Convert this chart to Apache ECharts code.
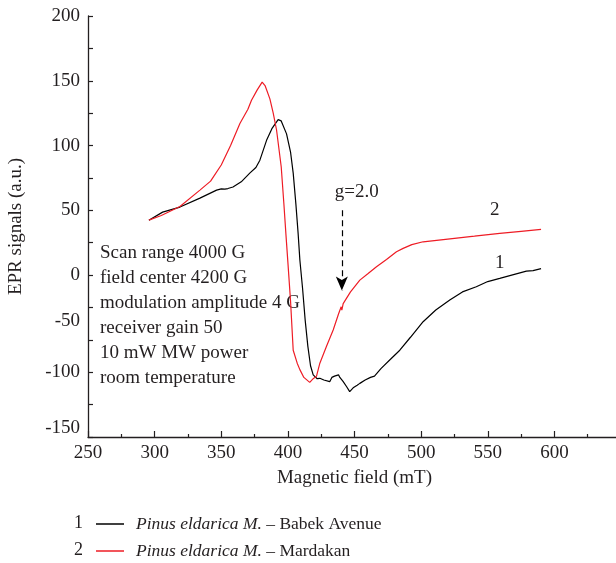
<!DOCTYPE html>
<html>
<head>
<meta charset="utf-8">
<title>EPR signals</title>
<script src="https://cdn.jsdelivr.net/npm/echarts@6/dist/echarts.min.js"></script>
<style>
  html, body { margin: 0; padding: 0; background: #fff; }
  #main { width: 616px; height: 563px; }
</style>
</head>
<body>
<div id="main"></div>
<script>
// series names (legend)
var seriesNames = ['Pinus eldarica M. – Babek Avenue', 'Pinus eldarica M. – Mardakan']

// curve 1 (black) - magnetic field (mT), signal (a.u.)
var fieldBabek = [295.7, 306, 319, 334, 346.5, 350, 352.7, 355, 358.8, 365, 371.4, 376, 379, 384, 388, 392.7, 395, 399, 402, 404, 406, 407.7, 409, 411, 413, 415, 417, 419, 422, 424, 427, 431.4, 433, 435, 438, 439, 441.4, 444, 446.4, 449, 452, 454, 458, 462, 465, 470, 477, 484, 492, 501.5, 511, 521.5, 531, 541.4, 550, 559, 570, 579, 584, 590]
var signalBabek = [42.4, 48.6, 52.5, 59.4, 65.6, 66.5, 66.4, 66.8, 68, 72, 78.7, 83, 88.7, 104, 113, 120, 119, 109, 95, 78.7, 55, 32, 11.6, -10, -35, -55, -70, -77, -80, -79.7, -81, -82.3, -79, -78, -77, -79, -82, -86, -90, -87, -85, -83.6, -81, -79, -78, -72, -65, -58, -48, -36, -27, -19.3, -13, -9, -5, -2.6, 0.5, 3, 3.5, 5]

// curve 2 (red)
var fieldMardakan = [295.7, 305, 319, 334, 342, 350, 357, 364, 370, 372.7, 377, 380.7, 383, 386.5, 389, 391.5, 395, 397, 398.5, 400, 402, 404, 407, 409, 412, 416.4, 419, 421.5, 424, 429, 434, 438, 440, 440.5, 441.5, 447, 454, 460, 466.5, 474, 481.5, 486.5, 493, 501.5, 520, 540, 559, 575, 590]
var signalMardakan = [42.4, 46, 53, 65.6, 72.5, 85, 100, 117, 128, 135, 143, 149, 146, 136, 125, 112, 83.6, 55, 32, 10, -20, -58, -68, -73, -79, -82.8, -80, -78, -68, -55, -42.4, -30, -24.5, -27, -22, -13, -3.9, 1, 6.4, 12, 18, 20.6, 23.5, 25.7, 27.8, 30, 32.2, 33.8, 35.3]

// g-factor marker
var gField = 440.5
var gLabel = 'g=2.0'

// y tick labels as printed in the figure (lower ones sit off their ticks)
var yTickText = {'200': '200', '150': '150', '100': '100', '50': '50', '0': '0',
  '-50': '{up1|-50}', '-75': '-100', '-125': '{up3|-150}'}

var experimentText = ['Scan range 4000 G', 'field center 4200 G', 'modulation amplitude 4 G',
  'receiver gain 50', '10 mW MW power', 'room temperature']

function zip(xs, ys) {
  var out = []
  for (var i = 0; i < xs.length; i++) out.push([xs[i], ys[i]])
  return out
}

var serif = 'Liberation Serif'
var ink = '#231f20'

function legendBox(name, top) {
  return {
    orient: 'vertical',
    left: 91,
    top: top,
    itemWidth: 28,
    itemHeight: 1.5,
    icon: 'rect',
    data: [name],
    textStyle: {
      fontFamily: serif, fontSize: 17.5, color: ink, padding: [0, 0, 0, 7],
      rich: { i: { fontFamily: serif, fontStyle: 'italic', fontSize: 17.5, color: ink } }
    },
    formatter: function (n) {
      var parts = n.split(' – ')
      return '{i|' + parts[0] + '} – ' + parts[1]
    }
  }
}

var chart = echarts.init(document.getElementById('main'))
var option = {
  animation: false,
  textStyle: { fontFamily: serif, color: ink },
  grid: { left: 88, right: -5, top: 16, bottom: 126, outerBoundsMode: 'none' },
  xAxis: {
    type: 'value',
    min: 250,
    max: 650,
    interval: 50,
    name: 'Magnetic field (mT)',
    nameLocation: 'middle',
    nameGap: 32,
    nameTextStyle: { fontFamily: serif, fontSize: 19, color: ink },
    axisLine: { onZero: false, lineStyle: { color: ink, width: 1.3 } },
    axisTick: { inside: true, length: 6, lineStyle: { color: ink, width: 1.2 } },
    minorTick: { show: true, splitNumber: 2, length: 3, lineStyle: { color: ink, width: 1.2 } },
    splitLine: { show: false },
    axisLabel: {
      fontFamily: serif, fontSize: 19, color: ink, margin: 7,
      formatter: function (v) { return v > 600 ? '' : String(v) }
    }
  },
  yAxis: {
    type: 'value',
    min: -125,
    max: 200,
    interval: 25,
    name: 'EPR signals (a.u.)',
    nameLocation: 'middle',
    nameGap: 62,
    nameTextStyle: { fontFamily: serif, fontSize: 19, color: ink },
    axisLine: { show: true, onZero: false, lineStyle: { color: ink, width: 1.3 } },
    axisTick: { inside: true, length: 5, lineStyle: { color: ink, width: 1.2 } },
    splitLine: { show: false },
    axisLabel: {
      fontFamily: serif, fontSize: 19, color: ink, margin: 8,
      formatter: function (v) { return yTickText[String(v)] || '' },
      rich: {
        up1: { fontFamily: serif, fontSize: 19, color: ink, padding: [0, 0, 37, 0] },
        up3: { fontFamily: serif, fontSize: 19, color: ink, padding: [0, 0, 17, 0] }
      }
    }
  },
  legend: [legendBox(seriesNames[0], 510), legendBox(seriesNames[1], 537)],
  series: [
    {
      name: seriesNames[0],
      type: 'line',
      data: zip(fieldBabek, signalBabek),
      showSymbol: false,
      symbol: 'none',
      lineStyle: { color: '#000', width: 1.2 },
      itemStyle: { color: '#000' },
      markPoint: {
        symbol: 'circle',
        symbolSize: 1,
        itemStyle: { color: 'rgba(0,0,0,0)' },
        label: { show: true, position: 'inside', fontFamily: serif, fontSize: 19, color: ink, formatter: '{b}' },
        data: [{ name: '1', coord: [559, 9.5] }]
      }
    },
    {
      name: seriesNames[1],
      type: 'line',
      data: zip(fieldMardakan, signalMardakan),
      showSymbol: false,
      symbol: 'none',
      lineStyle: { color: '#ee1c25', width: 1.2 },
      itemStyle: { color: '#ee1c25' },
      markPoint: {
        symbol: 'circle',
        symbolSize: 1,
        itemStyle: { color: 'rgba(0,0,0,0)' },
        label: { show: true, position: 'inside', fontFamily: serif, fontSize: 19, color: ink, formatter: '{b}' },
        data: [
          { name: '2', coord: [555.3, 50.2] },
          { name: gLabel, coord: [451.7, 64] }
        ]
      },
      markLine: {
        silent: true,
        symbol: ['none', 'arrow'],
        symbolSize: [9, 14],
        label: { show: false },
        lineStyle: { color: '#000', type: [6, 4], width: 1.2 },
        data: [[{ coord: [gField, 50] }, { coord: [gField, -12] }]]
      }
    }
  ],
  graphic: [
    {
      type: 'text', left: 100, top: 241,
      style: { text: experimentText.join('\n'), fontFamily: serif, fontSize: 19, lineHeight: 25, fill: ink }
    },
    { type: 'text', left: 74, top: 514, style: { text: '1', fontFamily: serif, fontSize: 18, fill: ink } },
    { type: 'text', left: 74, top: 541, style: { text: '2', fontFamily: serif, fontSize: 18, fill: ink } }
  ]
}
chart.setOption(option)
</script>
</body>
</html>
